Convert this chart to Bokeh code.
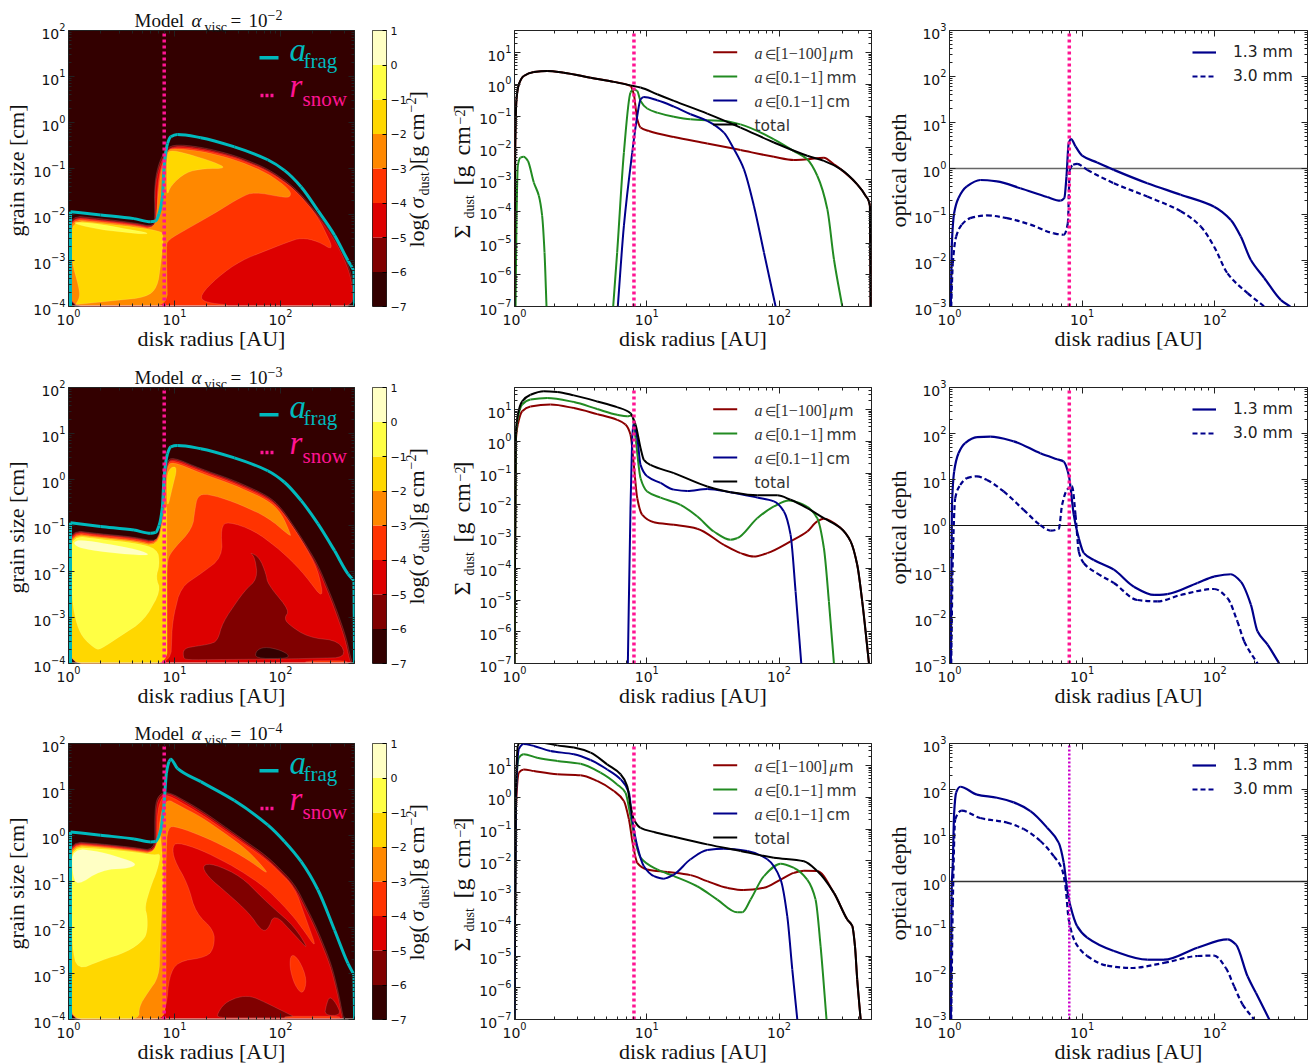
from math import hypot, log10
from bokeh.embed import file_html
from bokeh.resources import INLINE
from bokeh.layouts import column, row
from bokeh.models import (CustomJSTickFormatter, FixedTicker, Label, Legend, LegendItem, LogAxis,
                          AllLabels, Range1d)
from bokeh.plotting import figure

# ---------- colours of the filled contour levels (log sigma) ----------
C7, C6, C5, C4, C3, C2, C1, C0 = "#330000", "#800000", "#dd0000", "#ff3300", "#ff8800", "#ffd700", "#ffff44", "#ffffc4"
CB_LOW = [-7, -6, -5, -4, -3, -2, -1, 0]
CB_HIGH = [-6, -5, -4, -3, -2, -1, 0, 1]
CB_COLORS = [C7, C6, C5, C4, C3, C2, C1, C0]
CYAN, PINK = "#00b9bd", "#ff1493"
DRED, GREEN, NAVY = "#8b0000", "#228b22", "#00008b"
R_SNOW = [8.0, 8.0]

# ---------- a_frag curves (log r, log a) ----------
AF1_R = [.019,.019,.303,.618,.776,.823,.855,.886,.902,.934,.965,1.028,1.249,1.565,1.88,2.038,2.196,2.353,2.511,2.637,2.694,2.70]
AF1_A = [-4,-1.94,-2.01,-2.09,-2.16,-2.14,-1.98,-1.62,-.97,-.46,-.31,-.26,-.33,-.53,-.81,-1.04,-1.40,-1.91,-2.45,-3.0,-3.22,-4]
AF2_R = AF1_R
AF2_A = [-4,-.94,-1.02,-1.10,-1.17,-1.15,-1.0,-.60,.05,.56,.71,.74,.67,.47,.19,-.06,-.46,-.96,-1.55,-2.05,-2.20,-4]
AF3_R = [.019,.019,.303,.618,.776,.823,.871,.902,.924,.95,.965,1.028,1.249,1.565,1.88,2.038,2.196,2.353,2.511,2.637,2.694,2.70]
AF3_A = [-4,.078,.006,-.074,-.14,-.13,.12,.70,1.36,1.61,1.66,1.46,1.17,.76,.23,-.13,-.57,-1.18,-2.06,-2.78,-3.03,-4]

# ---------- model 1e-2 contour regions ----------
A1_ENV_R = [.01,.01,.30,.62,.81,.815,.81,.84,.90,.98,1.25,1.565,1.88,2.13,2.35,2.51,2.64,2.69,2.695]
A1_ENV_A = [-4,-2.02,-2.09,-2.18,-2.27,-1.98,-1.40,-.97,-.64,-.47,-.53,-.71,-1.0,-1.40,-1.98,-2.49,-3.07,-3.51,-4]
A1_C5_R = [.015,.015,.30,.62,.815,.82,.815,.85,.91,.985,1.25,1.565,1.88,2.125,2.345,2.505,2.63,2.68,2.685]
A1_C5_A = [-4,-2.05,-2.12,-2.20,-2.29,-2.0,-1.43,-1.0,-.67,-.50,-.56,-.74,-1.03,-1.43,-2.01,-2.52,-3.10,-3.54,-4]
A1_C4_R = [.013,.013,.303,.618,.814,.839,.839,.871,.924,.981,1.249,1.565,1.88,2.133,2.353,2.511,2.353,2.196,2.069,1.628,1.407,1.24,1.281,1.565]
A1_C4_A = [-3.98,-2.07,-2.135,-2.22,-2.31,-1.98,-1.40,-.97,-.66,-.53,-.59,-.76,-1.05,-1.45,-2.04,-2.80,-2.58,-2.505,-2.60,-3.0,-3.36,-3.76,-3.91,-3.98]
A1_C3_R = [.013,.013,.303,.618,.82,.85,.88,.93,.981,1.249,1.565,1.88,2.095,2.095,2.006,1.754,1.628,1.375,1.123,.934,.924,.934]
A1_C3_A = [-3.98,-2.10,-2.16,-2.24,-2.33,-1.40,-.97,-.62,-.56,-.62,-.80,-1.10,-1.47,-1.63,-1.62,-1.51,-1.62,-1.98,-2.31,-2.56,-2.71,-3.98]
A1_C2L_R = [.066,.732,.839,.871,.902,.839,.618,.303,.028,.028,.098,.107,.066]
A1_C2L_A = [-3.96,-3.80,-3.59,-3.07,-2.42,-2.35,-2.27,-2.19,-2.13,-3.0,-3.58,-3.80,-3.96]
A1_C2R_R = [.927,.965,1.107,1.281,1.495,1.375,1.123,.95,.927]
A1_C2R_A = [-1.62,-1.37,-1.08,-1.0,-1.0,-.86,-.68,-.59,-.75]
A1_C1_R = [.057,.303,.555,.76,.713,.303,.066]
A1_C1_A = [-2.16,-2.21,-2.32,-2.40,-2.43,-2.33,-2.21]
A1_REGIONS = [(C6, A1_ENV_R, A1_ENV_A), (C5, A1_C5_R, A1_C5_A), (C4, A1_C4_R, A1_C4_A), (C3, A1_C3_R, A1_C3_A),
              (C2, A1_C2L_R, A1_C2L_A), (C2, A1_C2R_R, A1_C2R_A), (C1, A1_C1_R, A1_C1_A)]

# ---------- model 1e-3 contour regions ----------
A2_ENV_R = [.013,.013,.30,.62,.84,.896,.924,.981,1.249,1.565,1.88,2.006,2.196,2.353,2.511,2.621,2.662,2.685]
A2_ENV_A = [-4,-1.10,-1.18,-1.25,-1.36,-1.04,.38,.49,.235,-.02,-.35,-.60,-1.25,-1.84,-2.71,-3.43,-3.87,-4]
A2_C5_R = [.016,.016,.30,.62,.84,.90,.93,.985,1.249,1.565,1.88,2.0,2.19,2.345,2.50,2.61,2.65,2.67]
A2_C5_A = [-4,-1.12,-1.20,-1.27,-1.38,-1.06,.35,.46,.21,-.05,-.38,-.63,-1.28,-1.87,-2.74,-3.46,-3.90,-4]
A2_C4_R = [.02,.02,.30,.62,.84,.90,.93,.98,1.25,1.565,1.88,2.006,2.196,2.353,2.41,2.196,2.006,1.754,1.502,1.438,1.454,1.249,1.059,.981,.965]
A2_C4_A = [-4,-1.14,-1.22,-1.29,-1.40,-.60,.33,.43,.18,-.08,-.41,-.66,-1.30,-1.95,-2.62,-1.98,-1.55,-1.11,-.91,-1.04,-1.69,-2.05,-2.34,-3.07,-3.98]
A2_C3_R = [.02,.02,.30,.62,.84,.90,.93,.98,1.25,1.565,1.88,2.006,2.095,2.095,1.88,1.565,1.312,1.218,1.192,1.17,.965,.93,.93]
A2_C3_A = [-4,-1.17,-1.25,-1.32,-1.43,-.70,.29,.39,.14,-.12,-.45,-.72,-1.18,-1.24,-.82,-.49,-.31,-.35,-.67,-1.07,-1.58,-1.80,-4]
A2_C2L_R = [.02,.02,.30,.62,.84,.90,.927,.93]
A2_C2L_A = [-4,-1.20,-1.27,-1.35,-1.46,-.8,-.5,-4]
A2_C2R_R = [.927,.965,1.028,.981,.93]
A2_C2R_A = [.09,.27,.27,-.17,-.67]
A2_C1_R = [.028,.30,.62,.84,.86,.823,.871,.713,.492,.303,.256,.129,.066,.028]
A2_C1_A = [-1.22,-1.30,-1.38,-1.50,-1.85,-2.13,-2.42,-3.07,-3.40,-3.69,-3.69,-3.43,-3.07,-2.49]
A2_C0_R = [.05,.114,.366,.618,.767,.713,.429,.145,.066]
A2_C0_A = [-1.36,-1.31,-1.40,-1.51,-1.62,-1.65,-1.60,-1.51,-1.44]
A2_H6_R = [1.082,1.085,1.218,1.328,1.407,1.454,1.659,1.785,1.76,1.707,1.801,1.864,1.88,2.085,2.038,2.069,2.259,2.558,2.621,2.069,1.123]
A2_H6_A = [-3.88,-3.67,-3.62,-3.58,-3.51,-3.11,-2.42,-2.16,-1.69,-1.58,-1.69,-2.05,-2.27,-2.85,-3.0,-3.14,-3.43,-3.51,-3.87,-3.90,-3.92]
A2_H7_R = [1.763,1.77,1.849,1.975,2.076,2.069]
A2_H7_A = [-3.89,-3.72,-3.64,-3.69,-3.80,-3.89]
A2_S4_R = [2.2,2.3,2.6,2.65]
A2_S4_A = [-3.98,-3.94,-3.94,-3.98]
A2_REGIONS = [(C6, A2_ENV_R, A2_ENV_A), (C5, A2_C5_R, A2_C5_A), (C4, A2_C4_R, A2_C4_A), (C3, A2_C3_R, A2_C3_A),
              (C2, A2_C2L_R, A2_C2L_A), (C2, A2_C2R_R, A2_C2R_A), (C1, A2_C1_R, A2_C1_A), (C0, A2_C0_R, A2_C0_A),
              (C6, A2_H6_R, A2_H6_A), (C7, A2_H7_R, A2_H7_A), (C4, A2_S4_R, A2_S4_A)]

# ---------- model 1e-4 contour regions ----------
A3_ENV_R = [.013,.013,.303,.618,.814,.814,.839,.924,1.249,1.565,1.88,2.133,2.338,2.479,2.543,2.59,2.6]
A3_ENV_A = [-4,-.13,-.18,-.26,-.33,.56,.85,.98,.56,.05,-.46,-1.04,-1.98,-2.78,-3.36,-3.91,-4]
A3_C5_R = [.016,.016,.303,.618,.825,.825,.85,.93,1.249,1.565,1.875,2.125,2.33,2.47,2.535,2.58,2.59]
A3_C5_A = [-4,-.15,-.20,-.28,-.35,.54,.82,.95,.52,.01,-.50,-1.08,-2.02,-2.82,-3.40,-3.94,-4]
A3_C4_R = [.02,.02,.303,.618,.83,.84,.88,.93,1.249,1.565,1.88,2.133,2.347,2.196,2.069,1.849,1.565,1.249,1.028,.981,.997,1.123,1.202,1.375,1.375,1.312,1.028,.95,.924,.87]
A3_C4_A = [-4,-.17,-.22,-.30,-.37,.55,.82,.90,.47,-.03,-.54,-1.12,-2.49,-1.98,-1.62,-1.11,-.68,-.31,-.15,-.24,-.53,-1.04,-1.69,-2.06,-2.42,-2.64,-2.74,-3.07,-3.72,-3.98]
A3_C3_R = [.02,.02,.303,.618,.83,.87,.93,1.028,1.249,1.565,1.722,1.912,1.722,1.565,1.312,1.028,.934,.92,.92,.89]
A3_C3_A = [-4,-.19,-.24,-.32,-.39,.5,.80,.67,.41,-.10,-.39,-.89,-.57,-.35,-.06,.19,.19,-.5,-3.7,-4]
A3_C2_R = [.025,.025,.303,.618,.814,.86,.90,.871,.855,.744,.666,.666]
A3_C2_A = [-4,-.22,-.26,-.34,-.41,.2,-.82,-1.98,-3.07,-3.43,-3.72,-4]
A3_C1_R = [.028,.303,.618,.814,.871,.839,.776,.719,.744,.744,.713,.555,.303,.082,.035]
A3_C1_A = [-.25,-.29,-.36,-.43,-.39,-.75,-1.11,-1.55,-1.76,-2.06,-2.27,-2.53,-2.72,-2.93,-2.42]
A3_C0_R = [.035,.303,.65,.587,.303,.082,.035]
A3_C0_A = [-.28,-.35,-.60,-.71,-.75,-1.10,-.82]
A3_P4_R = [2.101,2.18,2.252,2.211,2.133,2.085]
A3_P4_A = [-2.56,-2.71,-3.14,-3.47,-3.25,-2.85]
A3_H1_R = [1.259,1.375,1.628,1.88,2.133,2.274,2.133,1.943,1.88,1.817,1.707,1.502,1.312]
A3_H1_A = [-.64,-.62,-.89,-1.47,-1.98,-2.51,-2.16,-1.69,-2.06,-2.06,-1.69,-1.26,-.89]
A3_H2_R = [1.407,1.47,1.596,1.722,1.849,2.069,2.148,1.407]
A3_H2_A = [-3.87,-3.65,-3.51,-3.49,-3.62,-3.87,-3.96,-3.96]
A3_H3_R = [2.432,2.464,2.527,2.574,2.416]
A3_H3_A = [-3.69,-3.49,-3.65,-3.91,-3.91]
A3_S4_R = [2.04,2.56,2.56,2.04]
A3_S4_A = [-3.93,-3.93,-3.97,-3.97]
A3_REGIONS = [(C6, A3_ENV_R, A3_ENV_A), (C5, A3_C5_R, A3_C5_A), (C4, A3_C4_R, A3_C4_A), (C3, A3_C3_R, A3_C3_A),
              (C2, A3_C2_R, A3_C2_A), (C1, A3_C1_R, A3_C1_A), (C0, A3_C0_R, A3_C0_A), (C4, A3_P4_R, A3_P4_A),
              (C6, A3_H1_R, A3_H1_A), (C6, A3_H2_R, A3_H2_A), (C6, A3_H3_R, A3_H3_A), (C4, A3_S4_R, A3_S4_A)]

# ---------- surface density curves (log r, log Sigma) ----------
M1_TOT_R = [0,.005,.015,.033,.07,.146,.247,.373,.575,.751,.877,.953,1.079,1.205,1.457,1.709,1.961,2.213,2.339,2.465,2.591,2.654,2.687,2.692]
M1_TOT_S = [-7,-2.15,-.47,0,.265,.39,.42,.37,.21,.08,-.03,-.10,-.31,-.52,-.92,-1.36,-1.83,-2.25,-2.41,-2.67,-3.15,-3.51,-3.83,-7]
M1_RED_R = [0,.005,.015,.033,.07,.146,.247,.373,.575,.751,.877,.902,.928,.953,1.016,1.205,1.457,1.709,1.961,2.112,2.213,2.339,2.415,2.465,2.591,2.654,2.687,2.692]
M1_RED_S = [-7,-2.15,-.47,0,.265,.39,.42,.37,.21,.08,-.05,-.31,-1.10,-1.36,-1.47,-1.66,-1.86,-2.07,-2.28,-2.38,-2.36,-2.31,-2.52,-2.67,-3.15,-3.51,-3.83,-7]
M1_GRN1_R = [.008,.015,.025,.045,.07,.101,.146,.184,.209,.227,.242]
M1_GRN1_S = [-7,-4.25,-2.57,-2.31,-2.28,-2.41,-3.09,-3.51,-4.14,-5.30,-7]
M1_GRN2_R = [.746,.776,.827,.877,.897,.928,.953,1.003,1.079,1.205,1.331,1.457,1.583,1.709,1.961,2.112,2.213,2.289,2.365,2.415,2.478]
M1_GRN2_S = [-7,-5.30,-2.15,-.26,-.15,-.21,-.52,-.76,-.89,-1.02,-1.10,-1.13,-1.15,-1.26,-1.73,-2.10,-2.36,-2.88,-3.93,-5.51,-7]
M1_BLU_R = [.781,.827,.89,.928,.953,.978,1.079,1.205,1.331,1.457,1.583,1.659,1.734,1.81,1.886,1.974]
M1_BLU_S = [-7,-4.46,-2.15,-.99,-.47,-.40,-.50,-.70,-.94,-1.15,-1.52,-2.04,-2.67,-3.83,-5.30,-7]

M2_TOT_R = [0,.01,.025,.058,.121,.222,.323,.449,.625,.776,.877,.915,.953,.978,1.028,1.205,1.457,1.633,1.835,1.986,2.087,2.213,2.339,2.465,2.541,2.591,2.629,2.68]
M2_TOT_S = [-7,.21,.84,1.26,1.47,1.58,1.56,1.45,1.26,1.08,.89,.53,-.21,-.58,-.74,-1.0,-1.42,-1.60,-1.70,-1.70,-1.84,-2.10,-2.42,-2.73,-3.15,-3.89,-5.05,-7]
M2_RED_R = [0,.01,.025,.058,.121,.272,.449,.625,.776,.839,.877,.902,.928,.965,1.054,1.205,1.381,1.583,1.709,1.81,1.911,2.087,2.213,2.289,2.339,2.465,2.541,2.591,2.629,2.68]
M2_RED_S = [-7,0,.53,.95,1.1,1.16,1.05,.86,.68,.53,.21,-.74,-1.79,-2.31,-2.55,-2.63,-2.75,-3.26,-3.52,-3.63,-3.52,-3.15,-2.84,-2.52,-2.44,-2.73,-3.15,-3.89,-5.05,-7]
M2_GRN_R = [0,.01,.025,.058,.121,.247,.449,.625,.776,.852,.89,.915,.953,1.003,1.104,1.255,1.381,1.507,1.633,1.684,1.835,1.961,2.075,2.188,2.289,2.339,2.377,2.415]
M2_GRN_S = [-7,.11,.74,1.16,1.32,1.37,1.24,1.02,.84,.79,.82,.11,-1.16,-1.58,-1.77,-2.0,-2.36,-2.84,-3.1,-3.05,-2.42,-2.05,-1.86,-2.0,-2.42,-3.36,-5.05,-7]
M2_BLU_R = [.857,.877,.897,.928,.953,1.003,1.104,1.205,1.306,1.457,1.633,1.835,1.961,2.037,2.087,2.125,2.168]
M2_BLU_S = [-7,-2.1,.53,.11,-.74,-1.10,-1.31,-1.52,-1.56,-1.50,-1.60,-1.77,-1.89,-2.21,-2.94,-4.73,-7]

M3_TOT_R = [0,.01,.025,.045,.197,.323,.449,.575,.701,.802,.852,.877,.902,.953,1.054,1.205,1.457,1.709,1.961,2.188,2.289,2.415,2.516,2.554,2.574,2.591,2.617]
M3_TOT_S = [-7,.04,1.62,1.75,1.73,1.64,1.57,1.41,1.04,.73,.36,-.27,-.69,-.96,-1.09,-1.24,-1.48,-1.69,-1.90,-2.01,-2.32,-3.01,-3.85,-4.06,-4.69,-5.74,-7]
M3_RED_R = [0,.01,.033,.07,.146,.323,.499,.625,.751,.827,.865,.897,.928,1.003,1.155,1.331,1.457,1.608,1.734,1.886,2.012,2.112,2.188,2.289,2.415,2.516,2.554,2.574,2.591,2.617]
M3_RED_S = [-7,-.48,.78,.88,.83,.73,.70,.52,.20,-.11,-.69,-1.53,-2.06,-2.27,-2.35,-2.45,-2.64,-2.85,-2.92,-2.85,-2.59,-2.38,-2.31,-2.32,-3.01,-3.85,-4.06,-4.69,-5.74,-7]
M3_GRN_R = [0,.01,.033,.07,.171,.323,.499,.65,.776,.839,.877,.915,.953,1.079,1.205,1.381,1.533,1.684,1.722,1.785,1.886,2.012,2.112,2.213,2.276,2.314,2.359]
M3_GRN_S = [-7,.04,1.25,1.36,1.25,1.15,1.06,.78,.41,.15,-.59,-1.43,-1.90,-2.27,-2.48,-2.80,-3.22,-3.62,-3.62,-3.22,-2.48,-2.09,-2.22,-2.59,-3.22,-4.69,-7]
M3_BLU_R = [0,.01,.033,.07,.146,.272,.449,.575,.701,.802,.865,.89,.928,.978,1.054,1.129,1.205,1.331,1.457,1.583,1.76,1.911,2.012,2.062,2.10,2.138]
M3_BLU_S = [-7,-.17,1.52,1.68,1.62,1.46,1.36,1.18,.88,.57,.15,-.69,-1.53,-2.17,-2.48,-2.56,-2.43,-1.95,-1.66,-1.62,-1.69,-1.95,-2.59,-3.74,-5.42,-7]

# ---------- optical depth curves (log r, log tau) ----------
T1_A_R = [.01,.018,.035,.068,.131,.232,.358,.534,.736,.836,.866,.882,.899,.917,.95,1.0,1.113,1.239,1.491,1.743,1.995,2.121,2.196,2.272,2.373,2.499,2.569]
T1_A_T = [-3,-1.62,-.97,-.64,-.39,-.25,-.28,-.43,-.62,-.70,-.64,-.17,.55,.64,.48,.28,.13,-.03,-.32,-.57,-.83,-1.12,-1.48,-1.99,-2.38,-2.86,-3]
T1_B_R = [.013,.025,.05,.093,.156,.282,.433,.61,.786,.861,.892,.907,.932,.962,1.038,1.239,1.491,1.743,1.894,1.995,2.096,2.247,2.373]
T1_B_T = [-3,-2.06,-1.48,-1.22,-1.08,-1.02,-1.08,-1.22,-1.41,-1.44,-1.19,-.03,.08,.10,-.03,-.32,-.61,-.93,-1.26,-1.70,-2.28,-2.71,-3]
T2_A_R = [.01,.018,.035,.068,.118,.207,.307,.484,.685,.811,.861,.899,.937,.975,1.013,1.088,1.239,1.39,1.542,1.642,1.869,1.995,2.121,2.196,2.272,2.322,2.398,2.486]
T2_A_T = [-3,.38,1.17,1.57,1.79,1.92,1.93,1.83,1.57,1.44,1.39,1.10,.23,-.28,-.60,-.75,-.96,-1.33,-1.51,-1.49,-1.25,-1.11,-1.06,-1.22,-1.72,-2.30,-2.59,-3]
T2_B_R = [.013,.025,.043,.081,.131,.207,.282,.408,.559,.685,.761,.824,.849,.887,.924,.95,.975,1.013,1.113,1.239,1.416,1.567,1.743,1.995,2.096,2.171,2.222,2.322]
T2_B_T = [-3,-.71,.59,.88,1.03,1.07,.99,.74,.34,.01,-.11,-.07,.45,.78,.85,.23,-.57,-.82,-1.04,-1.25,-1.62,-1.65,-1.51,-1.38,-1.58,-2.09,-2.52,-3]
T3_A_R = [.01,.015,.025,.035,.05,.081,.207,.358,.484,.61,.736,.824,.861,.887,.912,.962,1.038,1.239,1.491,1.617,1.869,2.096,2.159,2.247,2.31,2.411]
T3_A_T = [-3,-.32,.41,1.49,1.93,2.06,1.89,1.82,1.72,1.53,1.17,.84,.41,-.17,-.54,-.97,-1.22,-1.51,-1.70,-1.70,-1.44,-1.26,-1.37,-2.06,-2.42,-3]
T3_B_R = [.013,.025,.043,.093,.232,.433,.559,.685,.786,.849,.874,.899,.95,1.038,1.189,1.365,1.617,1.869,1.995,2.083,2.146,2.209,2.297]
T3_B_T = [-3,-.46,1.35,1.54,1.38,1.28,1.14,.88,.55,.26,-.10,-.83,-1.33,-1.62,-1.83,-1.88,-1.77,-1.62,-1.61,-1.88,-2.28,-2.67,-3]

TICKS_A = [-4, -3, -2, -1, 0, 1, 2]
TICKS_S = [-7, -6, -5, -4, -3, -2, -1, 0, 1]
TICKS_T = [-3, -2, -1, 0, 1, 2, 3]
TICKS_R = [0, 1, 2]
MINOR_M = [2, 3, 4, 5, 6, 7, 8, 9]
MODEL_EXP = ["\u22122", "\u22123", "\u22124"]

FH = 276
TOP = 30
BOTTOM = [51, 50, 45]
ROW_TOP = [0, 357, 713]
SERIF, SANS = "Liberation Serif", "DejaVu Sans"
BASELINE_K = 0.40  # a label's alphabetic baseline falls this many em below the asked position

# a transparent page-sized figure on top of the panels carries the texts built from several pieces
OV = figure(width=1313, height=1064, x_axis_type=None, y_axis_type=None,
            x_range=Range1d(0, 1313), y_range=Range1d(1064, 0),
            output_backend="svg", toolbar_location=None, tools="",
            min_border=0, outline_line_color=None, border_fill_color=None, background_fill_color=None,
            margin=(-1064, 0, 0, 0))
OV.grid.visible = False


def pw(vals):
    return [10.0 ** v for v in vals]


def ticker(exps):
    minors = [m * 10.0 ** e for e in exps for m in MINOR_M]
    return FixedTicker(ticks=[10.0 ** e for e in exps], minor_ticks=minors)


def rounded(xs, ys, xscale=105.0, yscale=46.0, cap=7.0, passes=2):
    pts = list(zip(xs, ys))
    for _ in range(passes):
        out = []
        for i, (ax, ay) in enumerate(pts):
            bx, by = pts[(i + 1) % len(pts)]
            length = hypot((bx - ax) * xscale, (by - ay) * yscale) or 1.0
            t = min(0.25, cap / length)
            out.append((ax + t * (bx - ax), ay + t * (by - ay)))
            out.append((bx - t * (bx - ax), by - t * (by - ay)))
        pts = out
        cap /= 2
    return [p[0] for p in pts], [p[1] for p in pts]


def curve(p, xs, ys, **kw):
    """Stroke the read values as one Bezier piece per pair of neighbouring values (log-log, no overshoot)."""
    n = len(xs)
    h = [xs[i + 1] - xs[i] for i in range(n - 1)]
    d = [(ys[i + 1] - ys[i]) / h[i] for i in range(n - 1)]
    m = [d[0]] + [0.0] * (n - 2) + [d[-1]]
    for i in range(1, n - 1):
        if d[i - 1] * d[i] > 0:
            w1, w2 = 2 * h[i] + h[i - 1], h[i] + 2 * h[i - 1]
            m[i] = (w1 + w2) / (w1 / d[i - 1] + w2 / d[i])
    x0 = pw(xs[:-1])
    y0 = pw(ys[:-1])
    x1 = pw(xs[1:])
    y1 = pw(ys[1:])
    cx0 = pw([xs[i] + h[i] / 3 for i in range(n - 1)])
    cy0 = pw([ys[i] + m[i] * h[i] / 3 for i in range(n - 1)])
    cx1 = pw([xs[i + 1] - h[i] / 3 for i in range(n - 1)])
    cy1 = pw([ys[i + 1] - m[i + 1] * h[i] / 3 for i in range(n - 1)])
    return p.bezier(x0=x0, y0=y0, x1=x1, y1=y1, cx0=cx0, cy0=cy0, cx1=cx1, cy1=cy1, **kw)


def mirror(p, tx, ty):
    blank = "return ''"
    for side, tk in (("above", tx), ("right", ty)):
        ax = LogAxis(ticker=ticker(tk), formatter=CustomJSTickFormatter(code=blank),
                     major_tick_in=6, major_tick_out=0, minor_tick_in=3, minor_tick_out=0,
                     major_label_standoff=0, major_label_text_font_size="1px",
                     axis_line_color=None, major_tick_line_color="#222222", minor_tick_line_color="#222222")
        p.add_layout(ax, side)


def base(ymin, ymax, yexp, fw, left, right, r):
    p = figure(width=left + fw + right, height=TOP + FH + BOTTOM[r], frame_width=fw, frame_height=FH,
               x_axis_type="log", y_axis_type="log",
               x_range=Range1d(1, 500), y_range=Range1d(ymin, ymax),
               output_backend="svg", toolbar_location=None, tools="",
               min_border_left=left, min_border_right=right, min_border_top=TOP, min_border_bottom=BOTTOM[r],
               margin=(0, 0, 0, 0))
    p.grid.visible = False
    p.outline_line_color = "#222222"
    p.outline_line_width = 1
    for ax, tk in ((p.xaxis[0], TICKS_R), (p.yaxis[0], yexp)):
        ax.ticker = ticker(tk)
        ax.major_tick_in, ax.major_tick_out = 6, 0
        ax.minor_tick_in, ax.minor_tick_out = 3, 0
        ax.axis_line_color = None
        ax.major_tick_line_color = "#222222"
        ax.minor_tick_line_color = "#222222"
        ax.major_label_text_font = SANS
        ax.major_label_text_font_size = "14px"
        ax.major_label_text_color = "#111111"
        ax.major_label_standoff = 3
        ax.major_label_policy = AllLabels()
    p.yaxis[0].major_label_text_baseline = "alphabetic"
    ax = p.xaxis[0]
    ax.major_label_standoff = 2
    ax.axis_label = "disk radius [AU]"
    ax.axis_label_text_font = SERIF
    ax.axis_label_text_font_size = "22px"
    ax.axis_label_text_font_style = "normal"
    ax.axis_label_text_color = "#111111"
    ax.axis_label_standoff = -2
    mirror(p, TICKS_R, yexp)
    return p


def lab(r, x, y, text, font=SERIF, size=22, style="normal", color="#111111", angle=0, align="left"):
    # x is the page position of the baseline start, y the position inside the row
    if angle:
        x -= BASELINE_K * size
    else:
        y -= BASELINE_K * size
    OV.add_layout(Label(x=x, y=y + ROW_TOP[r], x_units="canvas", y_units="canvas", text=text, text_font=font,
                        text_font_size=f"{size}px", text_font_style=style, text_color=color, angle=angle,
                        angle_units="deg", text_align=align, text_baseline="alphabetic"))


def sample(p, fx, fw, ymin, ymax, x0, x1, y, **kw):
    span = log10(500) / fw
    ly = log10(ymax) - (y - TOP) / FH * (log10(ymax) - log10(ymin))
    p.line([10 ** ((x0 - fx) * span), 10 ** ((x1 - fx) * span)], [10 ** ly, 10 ** ly], **kw)


def panel_left(r, regions, af_r, af_a):
    fx = 68
    p = base(1e-4, 1e2, TICKS_A, 286, 68, 8, r)
    p.background_fill_color = C7
    for col, xs, ys in regions:
        rx, ry = rounded(xs, ys)
        p.patch(pw(rx), pw(ry), fill_color=col, line_color="white", line_alpha=0.25, line_width=0.5)
    p.patch(pw([0, 2.7, 2.7, 0]), pw([-4, -4, -3.98, -3.98]), fill_color="#eadfd8", line_color=None)
    p.line(pw(af_r[:2]), pw(af_a[:2]), line_color=CYAN, line_width=3)
    p.line(pw(af_r[-2:]), pw(af_a[-2:]), line_color=CYAN, line_width=3)
    curve(p, af_r[1:-1], af_a[1:-1], line_color=CYAN, line_width=3)
    p.line(R_SNOW, [1e-4, 1e2], line_color=PINK, line_width=3.5, line_dash="3 3")
    sample(p, fx, 286, 1e-4, 1e2, 259, 278, 57.3, line_color=CYAN, line_width=3.5)
    sample(p, fx, 286, 1e-4, 1e2, 260, 275, 95, line_color=PINK, line_width=3.5, line_dash="3 2")
    lab(r, 289, 60.7, "a", size=33, style="italic", color=CYAN)
    lab(r, 303, 66.7, "frag", size=21, color=CYAN)
    lab(r, 289, 97, "r", size=33, style="italic", color=PINK)
    lab(r, 302, 105, "snow", size=21, color=PINK)
    lab(r, 25, 168, "grain size [cm]", angle=90, align="center")
    lab(r, 134, 26, "Model", size=19)
    lab(r, 191, 26, "\u03b1", size=19, style="italic")
    lab(r, 204, 31, "visc", size=14)
    lab(r, 230, 26, "=", size=19)
    lab(r, 248, 26, "10", size=19)
    lab(r, 267, 18, MODEL_EXP[r], size=14)
    return p


def colorbar(r):
    p = figure(width=10 + 14 + 54, height=TOP + FH + BOTTOM[r], frame_width=14, frame_height=FH,
               x_range=Range1d(0, 1), y_range=Range1d(-7, 1), x_axis_type=None, y_axis_location="right",
               output_backend="svg", toolbar_location=None, tools="",
               min_border_left=10, min_border_right=54, min_border_top=TOP, min_border_bottom=BOTTOM[r],
               margin=(0, 0, 0, 0))
    p.grid.visible = False
    p.outline_line_color = "#222222"
    p.quad(left=0, right=1, bottom=CB_LOW, top=CB_HIGH, fill_color=CB_COLORS, line_color=None)
    ax = p.yaxis[0]
    ax.ticker = FixedTicker(ticks=CB_LOW + [1])
    ax.major_label_overrides = {t: (f"\u2212{-t}" if t < 0 else str(t)) for t in CB_LOW + [1]}
    ax.major_tick_in, ax.major_tick_out = 4, 0
    ax.minor_tick_in = ax.minor_tick_out = 0
    ax.axis_line_color = None
    ax.major_label_text_font = SANS
    ax.major_label_text_font_size = "11px"
    ax.major_label_standoff = 4
    ax.major_label_text_color = "#111111"
    for y, txt, sz, st, bx in ((245, "log(", 22, "normal", 425), (206, "\u03c3", 22, "italic", 425), (193, "dust", 14, "normal", 430),
                               (169, ")[g cm", 22, "normal", 425), (110, "\u22122", 14, "normal", 416), (96, "]", 22, "normal", 425)):
        lab(r, bx, y, txt, size=sz, style=st, angle=90)
    return p


def panel_mid(r, curves, ymax=50.0):
    fx = 514
    p = base(1e-7, ymax, TICKS_S, 357, 74, 9, r)
    for col, xs, ys in curves:
        curve(p, xs, ys, line_color=col, line_width=2)
    p.line(R_SNOW, [1e-7, ymax], line_color=PINK, line_width=3.5, line_dash="3 3")
    rows = (51.7, 76, 100, 124)
    for y, col in zip(rows, (DRED, GREEN, NAVY, "black")):
        sample(p, fx, 357, 1e-7, ymax, 712.7, 736.7, y, line_color=col, line_width=2)
    for y, inner, unit, ux in ((rows[0], "[1\u2212100]", "m", 838), (rows[1], "[0.1\u22121]", "mm", 826), (rows[2], "[0.1\u22121]", "cm", 826)):
        b = y + 5.5
        lab(r, 754, b, "a", size=16, style="italic", color="#333333")
        lab(r, 764, b, "\u2208", size=13, color="#333333")
        lab(r, 775, b, inner, size=16, color="#333333")
        if unit == "m":
            lab(r, 829, b, "\u03bc", size=16, style="italic", color="#333333")
        lab(r, ux, b, unit, font=SANS, size=15.5, color="#333333")
    lab(r, 754, rows[3] + 5.5, "total", font=SANS, size=15.5, color="#333333")
    lab(r, 471, 236, "\u03a3", size=24, angle=90)
    lab(r, 475, 216, "dust", size=14, angle=90)
    lab(r, 471, 183, "[g", size=24, angle=90)
    lab(r, 471, 153, "cm", size=24, angle=90)
    lab(r, 465, 122, "\u22122", size=14, angle=90)
    lab(r, 471, 110, "]", size=24, angle=90)
    return p


def panel_right(r, a_r, a_t, b_r, b_t, hline_col, hline_w, snow_col, snow_w, snow_dash):
    p = base(1e-3, 1e3, TICKS_T, 358, 69, 3, r)
    p.line([1, 500], [1, 1], line_color=hline_col, line_width=hline_w)
    curve(p, a_r, a_t, line_color=NAVY, line_width=2.2)
    curve(p, b_r, b_t, line_color=NAVY, line_width=2.2, line_dash="5 3")
    # the legend keys: lines kept below the axis range, so only the legend shows them
    s = p.line([1, 500], [1e-6, 1e-6], line_color=NAVY, line_width=2.2)
    d = p.line([1, 500], [1e-6, 1e-6], line_color=NAVY, line_width=2.2, line_dash="5 3")
    p.line(R_SNOW, [1e-3, 1e3], line_color=snow_col, line_width=snow_w, line_dash=snow_dash)
    leg = Legend(items=[LegendItem(label="1.3 mm", renderers=[s]), LegendItem(label="3.0 mm", renderers=[d])],
                 location=(243, 220), orientation="vertical", background_fill_alpha=0, border_line_color=None,
                 padding=0, margin=0, spacing=4, glyph_width=24, glyph_height=20, label_height=20,
                 label_standoff=17, label_text_font=SANS, label_text_font_size="15.5px", label_text_color="#222222")
    p.add_layout(leg, "center")
    lab(r, 906.5, 168, "optical depth", angle=90, align="center")
    return p


LEFTS = [(A1_REGIONS, AF1_R, AF1_A), (A2_REGIONS, AF2_R, AF2_A), (A3_REGIONS, AF3_R, AF3_A)]
MIDS = [[(DRED, M1_RED_R, M1_RED_S), (GREEN, M1_GRN1_R, M1_GRN1_S), (GREEN, M1_GRN2_R, M1_GRN2_S), (NAVY, M1_BLU_R, M1_BLU_S), ("black", M1_TOT_R, M1_TOT_S)],
        [(DRED, M2_RED_R, M2_RED_S), (GREEN, M2_GRN_R, M2_GRN_S), (NAVY, M2_BLU_R, M2_BLU_S), ("black", M2_TOT_R, M2_TOT_S)],
        [(DRED, M3_RED_R, M3_RED_S), (GREEN, M3_GRN_R, M3_GRN_S), (NAVY, M3_BLU_R, M3_BLU_S), ("black", M3_TOT_R, M3_TOT_S)]]
RIGHTS = [(T1_A_R, T1_A_T, T1_B_R, T1_B_T, "#666666", 1.5, PINK, 3.5, "3 3"),
          (T2_A_R, T2_A_T, T2_B_R, T2_B_T, "#111111", 1.2, PINK, 3.5, "3 3"),
          (T3_A_R, T3_A_T, T3_B_R, T3_B_T, "#333333", 1.3, "#cc00cc", 2.5, "2 2")]

rows = []
for r in range(3):
    left = panel_left(r, *LEFTS[r])
    cb = colorbar(r)
    mid = panel_mid(r, MIDS[r])
    right = panel_right(r, *RIGHTS[r])
    rows.append(row(left, cb, mid, right, spacing=0, margin=(0, 0, 0, 0)))
root = column(*rows, OV, spacing=0, margin=(0, 0, 0, 0))
open("out.html", "w").write(file_html(root, INLINE))
